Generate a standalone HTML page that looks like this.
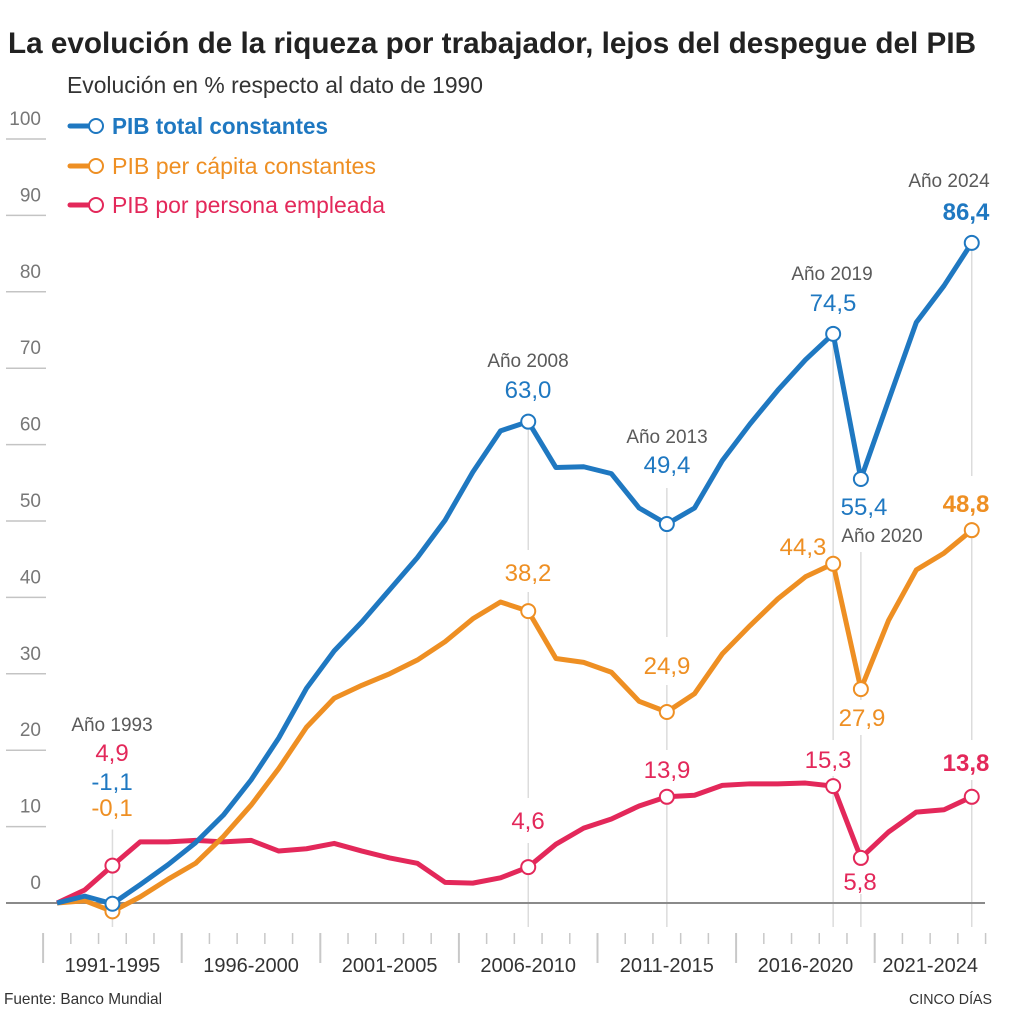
<!DOCTYPE html>
<html lang="es">
<head>
<meta charset="utf-8">
<title>La evolución de la riqueza por trabajador</title>
<style>
html,body{margin:0;padding:0;background:#fff;}
svg{display:block;font-family:"Liberation Sans",Arial,sans-serif;}
.yr{font-size:19px;fill:#5a5a5a;text-anchor:middle;}
.val{font-size:24px;text-anchor:middle;}
.b{fill:#1f78c1;}.o{fill:#ee8f23;}.r{fill:#e3285a;}
.bold{font-weight:bold;}
</style>
</head>
<body>
<svg id="chart" xmlns="http://www.w3.org/2000/svg" width="1018" height="1027" viewBox="0 0 1018 1027">
  <rect width="1018" height="1027" fill="#ffffff"/>
  <text x="8" y="53" font-size="30" font-weight="bold" fill="#222" textLength="968" lengthAdjust="spacingAndGlyphs">La evolución de la riqueza por trabajador, lejos del despegue del PIB</text>
  <text x="67" y="93" font-size="23" fill="#333" textLength="416" lengthAdjust="spacingAndGlyphs">Evolución en % respecto al dato de 1990</text>

  <g id="guides"></g>
  <g fill="#ffffff">
    <rect x="524" y="550" width="8" height="42"/>
    <rect x="524" y="798" width="8" height="45"/>
    <rect x="663" y="637" width="8" height="48"/>
    <rect x="663" y="750" width="8" height="40"/>
    <rect x="829" y="740" width="8" height="36"/>
    <rect x="857" y="470" width="8" height="82"/>
    <rect x="857" y="700" width="8" height="35"/>
    <rect x="857" y="866" width="8" height="28"/>
    <rect x="967" y="476" width="8" height="46"/>
    <rect x="967" y="740" width="8" height="40"/>
  </g>
  <g id="yaxis"></g>
  <g id="xaxis"></g>
  <g id="series"></g>

  <g>
    <g>
      <line x1="70" y1="126" x2="90" y2="126" stroke="#1f78c1" stroke-width="5" stroke-linecap="round"/>
      <circle cx="96" cy="126" r="7" fill="#fff" stroke="#1f78c1" stroke-width="2"/>
      <text x="112" y="134" font-size="23" font-weight="bold" fill="#1f78c1" textLength="216" lengthAdjust="spacingAndGlyphs">PIB total constantes</text>
    </g>
    <g>
      <line x1="70" y1="166" x2="90" y2="166" stroke="#ee8f23" stroke-width="5" stroke-linecap="round"/>
      <circle cx="96" cy="166" r="7" fill="#fff" stroke="#ee8f23" stroke-width="2"/>
      <text x="112" y="174" font-size="23" fill="#ee8f23" textLength="264" lengthAdjust="spacingAndGlyphs">PIB per cápita constantes</text>
    </g>
    <g>
      <line x1="70" y1="205" x2="90" y2="205" stroke="#e3285a" stroke-width="5" stroke-linecap="round"/>
      <circle cx="96" cy="205" r="7" fill="#fff" stroke="#e3285a" stroke-width="2"/>
      <text x="112" y="213" font-size="23" fill="#e3285a" textLength="273" lengthAdjust="spacingAndGlyphs">PIB por persona empleada</text>
    </g>
  </g>

  <g>
    <text class="yr" x="112" y="731">Año 1993</text>
    <text class="val r" x="112" y="761">4,9</text>
    <text class="val b" x="112" y="790">-1,1</text>
    <text class="val o" x="112" y="816">-0,1</text>

    <text class="yr" x="528" y="367">Año 2008</text>
    <text class="val b" x="528" y="398">63,0</text>
    <text class="val o" x="528" y="581">38,2</text>
    <text class="val r" x="528" y="829">4,6</text>

    <text class="yr" x="667" y="443">Año 2013</text>
    <text class="val b" x="667" y="473">49,4</text>
    <text class="val o" x="667" y="674">24,9</text>
    <text class="val r" x="667" y="778">13,9</text>

    <text class="yr" x="832" y="280">Año 2019</text>
    <text class="val b" x="833" y="311">74,5</text>
    <text class="val o" x="803" y="555">44,3</text>
    <text class="val r" x="828" y="768">15,3</text>

    <text class="val b" x="864" y="515">55,4</text>
    <text class="yr" x="882" y="542">Año 2020</text>
    <text class="val o" x="862" y="726">27,9</text>
    <text class="val r" x="860" y="890">5,8</text>

    <text class="yr" x="949" y="187">Año 2024</text>
    <text class="val b bold" x="966" y="220">86,4</text>
    <text class="val o bold" x="966" y="512">48,8</text>
    <text class="val r bold" x="966" y="771">13,8</text>
  </g>

  <text x="4" y="1004" font-size="16" fill="#333" textLength="158" lengthAdjust="spacingAndGlyphs">Fuente: Banco Mundial</text>
  <text x="909" y="1004" font-size="15" fill="#333" textLength="83" lengthAdjust="spacingAndGlyphs">CINCO DÍAS</text>
</svg>

<script>
var years = [1991,1992,1993,1994,1995,1996,1997,1998,1999,2000,2001,2002,2003,2004,2005,2006,2007,2008,2009,2010,2011,2012,2013,2014,2015,2016,2017,2018,2019,2020,2021,2022,2023,2024];
var pibTotal = [0,0.9,-0.1,2.4,5.0,7.9,11.5,16.1,21.6,28.1,33.0,36.8,41.0,45.2,50.1,56.4,61.8,63.0,57.0,57.1,56.2,51.7,49.6,51.7,57.9,62.7,67.1,71.1,74.5,55.5,65.8,76.0,80.8,86.4];
var pibCapita = [0,0.3,-1.1,0.8,3.1,5.2,8.7,12.8,17.6,23.0,26.8,28.5,30.0,31.8,34.2,37.2,39.4,38.2,32.0,31.5,30.2,26.4,25.0,27.4,32.6,36.3,39.8,42.7,44.4,28.0,37.0,43.6,45.8,48.8];
var pibWorker = [0,1.7,4.9,8.0,8.0,8.2,8.0,8.2,6.8,7.1,7.8,6.8,5.9,5.2,2.7,2.6,3.3,4.7,7.7,9.8,11.0,12.7,13.9,14.1,15.4,15.6,15.6,15.7,15.3,5.9,9.3,11.9,12.2,13.9];
var markerYears = [1993,2008,2013,2019,2020,2024];
var guideOverhangYears = [1993,2013];
var yTicks = [0,10,20,30,40,50,60,70,80,90,100];
var periodLabels = ["1991-1995","1996-2000","2001-2005","2006-2010","2011-2015","2016-2020","2021-2024"];
var periodStarts = [1991,1996,2001,2006,2011,2016,2021];
var periodEnds = [1995,2000,2005,2010,2015,2020,2024];

var NS = "http://www.w3.org/2000/svg";
function x(year){ return 57 + (year - 1991) * 27.72; }
function y(value){ return 903 - value * 7.64; }
function make(tag, parent){
  var el = document.createElementNS(NS, tag);
  parent.appendChild(el);
  return el;
}
function setLine(el, x1, y1, x2, y2, color, width){
  el.setAttribute("x1", x1);
  el.setAttribute("y1", y1);
  el.setAttribute("x2", x2);
  el.setAttribute("y2", y2);
  el.setAttribute("stroke", color);
  el.setAttribute("stroke-width", width);
}

/* y axis */
var yGroup = document.getElementById("yaxis");
yTicks.forEach(function(t){
  var ln = make("line", yGroup);
  
  
  if (t === 0) { setLine(ln, 6, y(t), 985, y(t), "#8a8a8a", 2); }
  else { setLine(ln, 6, y(t), 46, y(t), "#c4c4c4", 1.5); }
  var tx = make("text", yGroup);
  
  
  tx.setAttribute("x", 41);
  tx.setAttribute("y", y(t) - 14);
  tx.setAttribute("text-anchor", "end");
  tx.setAttribute("font-size", "19");
  tx.setAttribute("fill", "#777");
  tx.textContent = t;
});

/* x axis */
var xGroup = document.getElementById("xaxis");
var tickYears = years.concat([2025]);
tickYears.forEach(function(yr){
  var isMajor = periodStarts.indexOf(yr) !== -1;
  var ln = make("line", xGroup);
  
  
  var px = x(yr) - 13.9;
  setLine(ln, px, 933, px, isMajor ? 963 : 944, "#c8c8c8", isMajor ? 2 : 1.5);
});
periodLabels.forEach(function(label, i){
  var tx = make("text", xGroup);
  
  
  tx.setAttribute("x", (x(periodStarts[i]) + x(periodEnds[i])) / 2);
  tx.setAttribute("y", 972);
  tx.setAttribute("text-anchor", "middle");
  tx.setAttribute("font-size", "20");
  tx.setAttribute("fill", "#333");
  tx.textContent = label;
});

/* annotation guides: from the top marker (or slightly above) to below the baseline */
var guideGroup = document.getElementById("guides");
markerYears.forEach(function(yr){
  var i = years.indexOf(yr);
  var top = Math.max(pibTotal[i], pibCapita[i], pibWorker[i]);
  var ln = make("line", guideGroup);
  
  
  var overhang = guideOverhangYears.indexOf(yr) !== -1 ? 36 : 0;
  setLine(ln, x(yr), y(top) - overhang, x(yr), 927, "#dcdcdc", 1.5);
});

/* series */
var seriesGroup = document.getElementById("series");
function drawSeries(values, color, name){
  var path = make("polyline", seriesGroup);
  
  
  path.setAttribute("fill", "none");
  path.setAttribute("stroke", color);
  path.setAttribute("stroke-width", "5");
  path.setAttribute("stroke-linejoin", "round");
  path.setAttribute("points", values.map(function(v, i){ return x(years[i]) + "," + y(v); }).join(" "));
}
function drawMarkers(values, color, name){
  markerYears.forEach(function(yr){
    var i = years.indexOf(yr);
    var c = make("circle", seriesGroup);
    
    
    c.setAttribute("cx", x(yr));
    c.setAttribute("cy", y(values[i]));
    c.setAttribute("r", "7");
    c.setAttribute("fill", "#fff");
    c.setAttribute("stroke", color);
    c.setAttribute("stroke-width", "2");
  });
}
drawSeries(pibWorker, "#e3285a", "pib-worker");
drawSeries(pibCapita, "#ee8f23", "pib-capita");
drawSeries(pibTotal, "#1f78c1", "pib-total");
drawMarkers(pibWorker, "#e3285a", "pib-worker");
drawMarkers(pibCapita, "#ee8f23", "pib-capita");
drawMarkers(pibTotal, "#1f78c1", "pib-total");
</script>
</body>
</html>
